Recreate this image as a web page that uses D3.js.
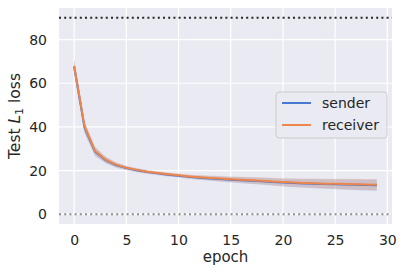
<!DOCTYPE html>
<html>
<head>
<meta charset="utf-8">
<script src="https://cdn.jsdelivr.net/npm/d3@7"></script>
<style>
  body { margin: 0; background: #fff; }
  svg { display: block; font-family: "DejaVu Sans", sans-serif; }
</style>
</head>
<body>
<div id="chart"></div>
<script>
// Data
const epochs = d3.range(0, 30);
const receiverLoss = [68.0, 40.2, 29.0, 25.0, 22.7, 21.3, 20.3, 19.5, 18.9, 18.3,
                      17.8, 17.3, 16.9, 16.6, 16.3, 16.0, 15.8, 15.5, 15.3, 15.0,
                      14.7, 14.5, 14.3, 14.2, 14.0, 13.9, 13.8, 13.7, 13.6, 13.5];
const senderLoss = [67.6, 39.6, 28.7, 24.8, 22.5, 21.1, 20.1, 19.3, 18.7, 18.1,
                    17.6, 17.1, 16.7, 16.4, 16.1, 15.8, 15.6, 15.3, 15.1, 14.8,
                    14.5, 14.3, 14.1, 14.0, 13.8, 13.7, 13.6, 13.5, 13.4, 13.3];
const receiverCI = [3.2, 2.5, 1.9, 1.4, 1.1, 0.9, 0.8, 0.8, 0.8, 0.8,
                    0.8, 0.9, 1.0, 1.1, 1.2, 1.3, 1.4, 1.5, 1.6, 1.7,
                    1.8, 1.9, 2.0, 2.1, 2.2, 2.3, 2.4, 2.5, 2.5, 2.6];
const senderCI = [3.4, 2.7, 2.1, 1.5, 1.2, 1.0, 0.9, 0.8, 0.8, 0.8,
                  0.8, 0.9, 1.0, 1.1, 1.2, 1.3, 1.4, 1.5, 1.6, 1.7,
                  1.8, 1.9, 2.0, 2.1, 2.2, 2.3, 2.4, 2.5, 2.5, 2.6];
const xTicks = [0, 5, 10, 15, 20, 25, 30];
const yTicks = [0, 20, 40, 60, 80];
const refLines = [90, 0];

const width = 403, height = 274;
const margin = { top: 8, right: 11, bottom: 50, left: 59 };

const svg = d3.select('#chart')
    .append('svg')
    .attr('width', width)
    .attr('height', height);

const x = d3.scaleLinear().domain([-1.45, 30.45]).range([margin.left, width - margin.right]);
const y = d3.scaleLinear().domain([-4.5, 94.5]).range([height - margin.bottom, margin.top]);

// Background
svg.append('rect')
    .attr('x', margin.left)
    .attr('y', margin.top)
    .attr('width', width - margin.left - margin.right)
    .attr('height', height - margin.top - margin.bottom)
    .attr('fill', '#eaeaf2');

// Grid
svg.append('g')
    .selectAll('line')
    .data(xTicks)
    .enter()
    .append('line')
    .attr('x1', d => x(d)).attr('x2', d => x(d))
    .attr('y1', margin.top).attr('y2', height - margin.bottom)
    .attr('stroke', '#fff').attr('stroke-width', 1.2);

svg.append('g')
    .selectAll('line')
    .data(yTicks)
    .enter()
    .append('line')
    .attr('y1', d => y(d)).attr('y2', d => y(d))
    .attr('x1', margin.left).attr('x2', width - margin.right)
    .attr('stroke', '#fff').attr('stroke-width', 1.2);

// Axes (labels only, seaborn style)
const xAxis = svg.append('g')
    .attr('transform', `translate(0,${height - margin.bottom})`)
    .call(d3.axisBottom(x).tickValues(xTicks).tickSize(0).tickPadding(11));
const yAxis = svg.append('g')
    .attr('transform', `translate(${margin.left},0)`)
    .call(d3.axisLeft(y).tickValues(yTicks).tickSize(0).tickPadding(12));
[xAxis, yAxis].forEach(a => {
    a.select('.domain').remove();
    a.selectAll('text')
        .style('font-family', '"DejaVu Sans", sans-serif')
        .style('font-size', '14px')
        .attr('fill', '#262626');
});

// Reference lines
svg.append('g')
    .selectAll('line')
    .data(refLines)
    .enter()
    .append('line')
    .attr('x1', margin.left).attr('x2', width - margin.right)
    .attr('y1', d => y(d)).attr('y2', d => y(d))
    .attr('stroke', d => d === 0 ? '#8c8c8c' : '#262626')
    .attr('stroke-width', 2)
    .attr('stroke-dasharray', '2,3.2');

// Series
const series = [
    { name: 'sender', values: senderLoss, ci: senderCI, color: '#4878d0' },
    { name: 'receiver', values: receiverLoss, ci: receiverCI, color: '#ee854a' }
];

const area = d3.area()
    .x(d => x(d.e))
    .y0(d => y(d.v - d.c))
    .y1(d => y(d.v + d.c));
const line = d3.line()
    .x(d => x(d.e))
    .y(d => y(d.v));

series.forEach(s => {
    const pts = epochs.map((e, i) => ({ e, v: s.values[i], c: s.ci[i] }));
    svg.append('path')
        .attr('d', area(pts))
        .attr('fill', s.color)
        .attr('fill-opacity', 0.22);
});
series.forEach(s => {
    const pts = epochs.map((e, i) => ({ e, v: s.values[i], c: s.ci[i] }));
    svg.append('path')
        .attr('d', line(pts))
        .attr('fill', 'none')
        .attr('stroke', s.color)
        .attr('stroke-width', 2);
});

// Axis labels
svg.append('text')
    .attr('x', (margin.left + width - margin.right) / 2)
    .attr('y', 262)
    .attr('text-anchor', 'middle')
    .style('font-size', '15px')
    .attr('fill', '#262626')
    .text('epoch');

const yl = svg.append('text')
    .attr('transform', `translate(19.5,${(margin.top + height - margin.bottom) / 2}) rotate(-90)`)
    .attr('text-anchor', 'middle')
    .style('font-size', '15.5px')
    .attr('fill', '#262626');
yl.append('tspan').text('Test ');
yl.append('tspan').style('font-style', 'italic').text('L');
yl.append('tspan').attr('dy', 3).style('font-size', '11px').text('1');
yl.append('tspan').attr('dy', -3).text(' loss');

// Legend
const legend = svg.append('g').attr('transform', 'translate(276,92)');
legend.append('rect')
    .attr('width', 111).attr('height', 46)
    .attr('rx', 3)
    .attr('fill', '#eaeaf2')
    .attr('stroke', '#cccccc')
    .attr('stroke-width', 1);
series.forEach((s, i) => {
    const g = legend.append('g').attr('transform', `translate(0,${11 + i * 22})`);
    g.append('line')
        .attr('x1', 6).attr('x2', 35)
        .attr('stroke', s.color).attr('stroke-width', 2);
    g.append('text')
        .attr('x', 46).attr('dy', '0.35em')
        .style('font-size', '14px')
        .attr('fill', '#262626')
        .text(s.name);
});
</script>
</body>
</html>
